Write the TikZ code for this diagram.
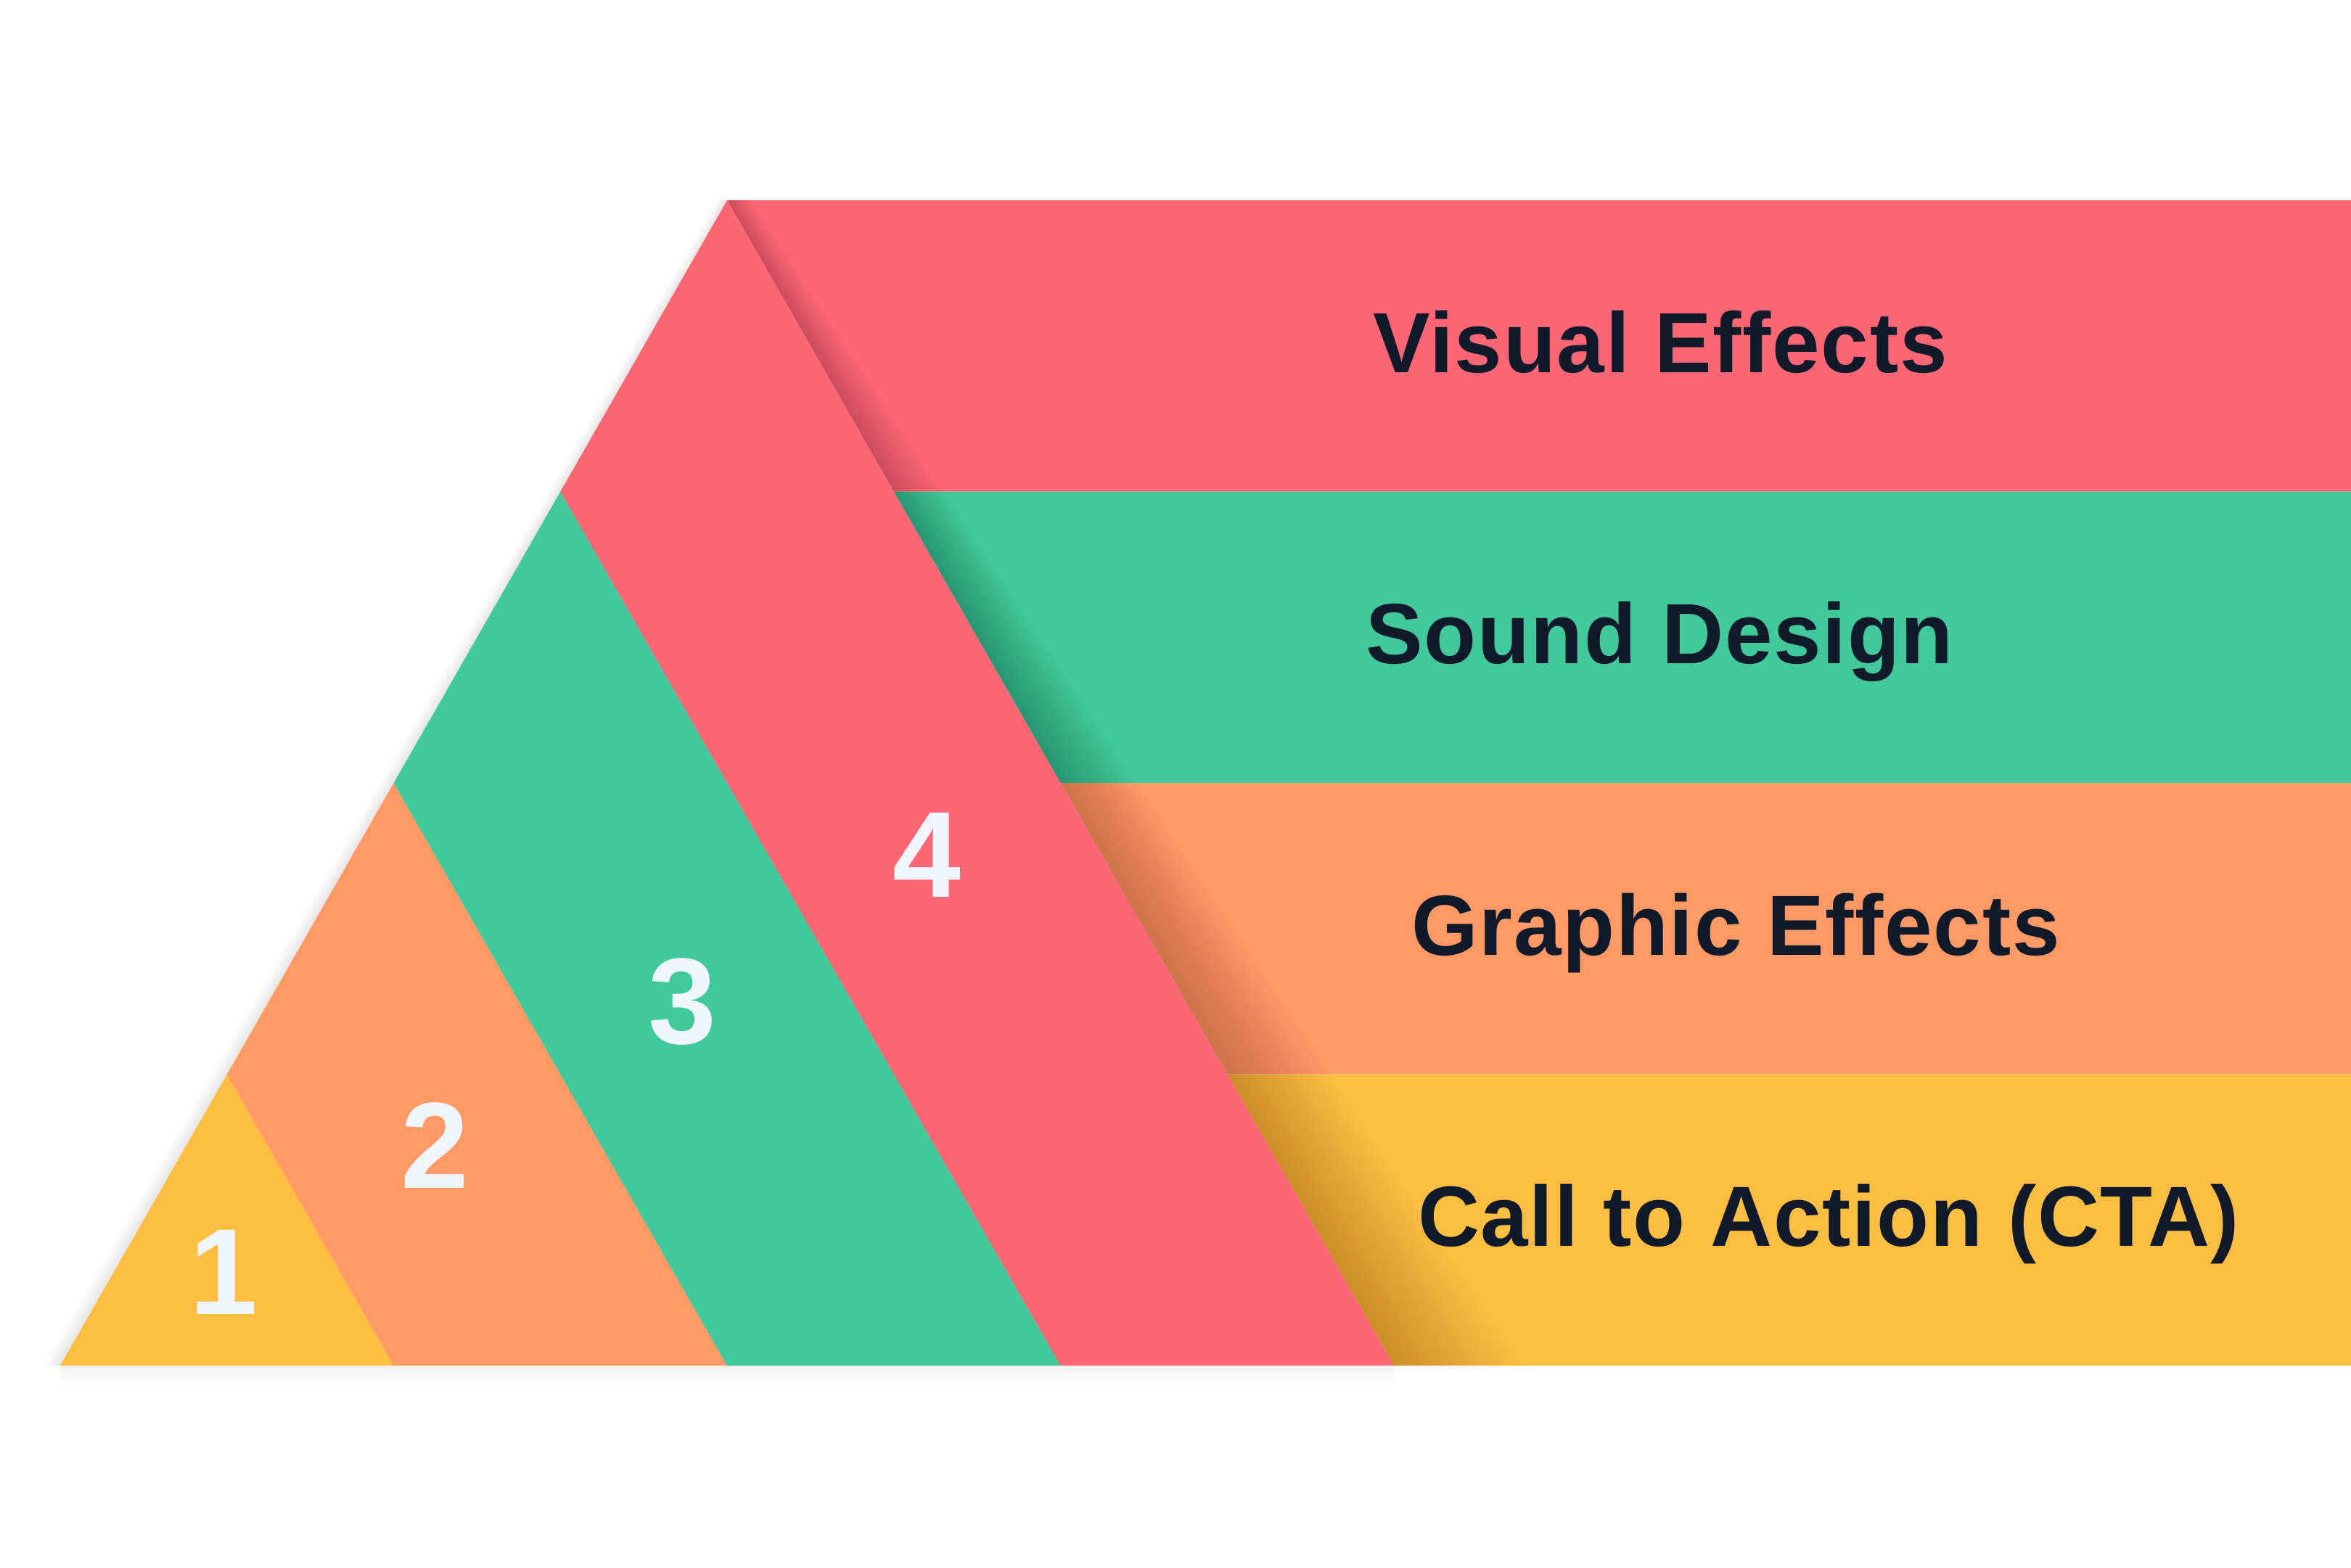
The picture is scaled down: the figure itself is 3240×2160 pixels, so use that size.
\documentclass[tikz,border=0pt]{standalone}
\usepackage{fontspec}
\setmainfont{Liberation Sans}
\usetikzlibrary{calc}
\definecolor{bandRed}{HTML}{FD6675}
\definecolor{bandGreen}{HTML}{41C89B}
\definecolor{bandOrange}{HTML}{FF9A66}
\definecolor{bandYellow}{HTML}{FEBE41}
\definecolor{inkDark}{HTML}{111A2B}
\definecolor{numWhite}{HTML}{F0F5FC}

\begin{document}
\begin{tikzpicture}[x=0.01cm,y=-0.01cm,
  label/.style={font=\fontsize{33.5}{40}\selectfont\bfseries\addfontfeature{LetterSpace=1.5},text=inkDark,inner sep=0pt,anchor=base},
  num/.style={font=\fontsize{48}{56}\selectfont\bfseries,text=numWhite,inner sep=0pt,anchor=base}]
  \useasboundingbox (0,0) rectangle (3240,2160);
  % pyramid corners
  \coordinate (apex) at (1002,276);
  \coordinate (bl) at (83,1882);
  \coordinate (br) at (1921,1882);
  % left edge, base and right edge points of the stripes
  \coordinate (l1) at (772.3,677.5);
  \coordinate (l2) at (542.6,1079);
  \coordinate (l3) at (312.9,1480.5);
  \coordinate (b1) at (542.6,1882);
  \coordinate (b2) at (1002,1882);
  \coordinate (b3) at (1461.5,1882);
  \coordinate (r1) at (1231.7,677.5);
  \coordinate (r2) at (1461.5,1079);
  \coordinate (r3) at (1691.2,1480.5);

  % soft shadow round the pyramid
  \foreach \d in {6,12,...,48}{\fill[black,opacity=0.01] (apex) -- (bl) -- ($(bl)+(-\d*0.5,0)$) -- ($(apex)+(-\d*0.3,0)$) -- cycle;}
  \foreach \d in {4,8,...,24}{\fill[black,opacity=0.008] (bl) -- (br) -- ($(br)+(0,\d)$) -- ($(bl)+(0,\d)$) -- cycle;}

  % horizontal bands
  \fill[bandRed] (apex) -- (3240,276) -- (3240,677.5) -- (r1) -- cycle;
  \fill[bandGreen] (r1) -- (3240,677.5) -- (3240,1079) -- (r2) -- cycle;
  \fill[bandOrange] (r2) -- (3240,1079) -- (3240,1480.5) -- (r3) -- cycle;
  \fill[bandYellow] (r3) -- (3240,1480.5) -- (3240,1882) -- (br) -- cycle;

  % shadow of the red stripe on the bands
  \begin{scope}
    \clip (apex) -- (3240,276) -- (3240,1882) -- (br) -- cycle;
    \foreach \f in {1,...,24}{\fill[black,opacity=0.0095] (apex) -- ($(apex)+(\f*1.4,0)$) -- ($(br)+(\f*7.5,0)$) -- (br) -- cycle;}
  \end{scope}

  % stripes of the pyramid
  \fill[bandYellow] (bl) -- (l3) -- (b1) -- cycle;
  \fill[bandOrange] (l3) -- (l2) -- (b2) -- (b1) -- cycle;
  \fill[bandGreen] (l2) -- (l1) -- (b3) -- (b2) -- cycle;
  \fill[bandRed] (l1) -- (apex) -- (br) -- (b3) -- cycle;

  % numbers
  \node[num] (n1) at (308,1811) {1};
  \node[num] (n2) at (599,1637) {2};
  \node[num] (n3) at (940,1438) {3};
  \node[num] (n4) at (1277,1236) {4};

  % band labels
  \node[label] (visual) at (2288,513) {Visual Effects};
  \node[label] (sound) at (2287,914.5) {Sound Design};
  \node[label] (graphic) at (2392,1316) {Graphic Effects};
  \node[label] (cta) at (2520,1717.5) {Call to Action (CTA)};
\end{tikzpicture}
\end{document}
